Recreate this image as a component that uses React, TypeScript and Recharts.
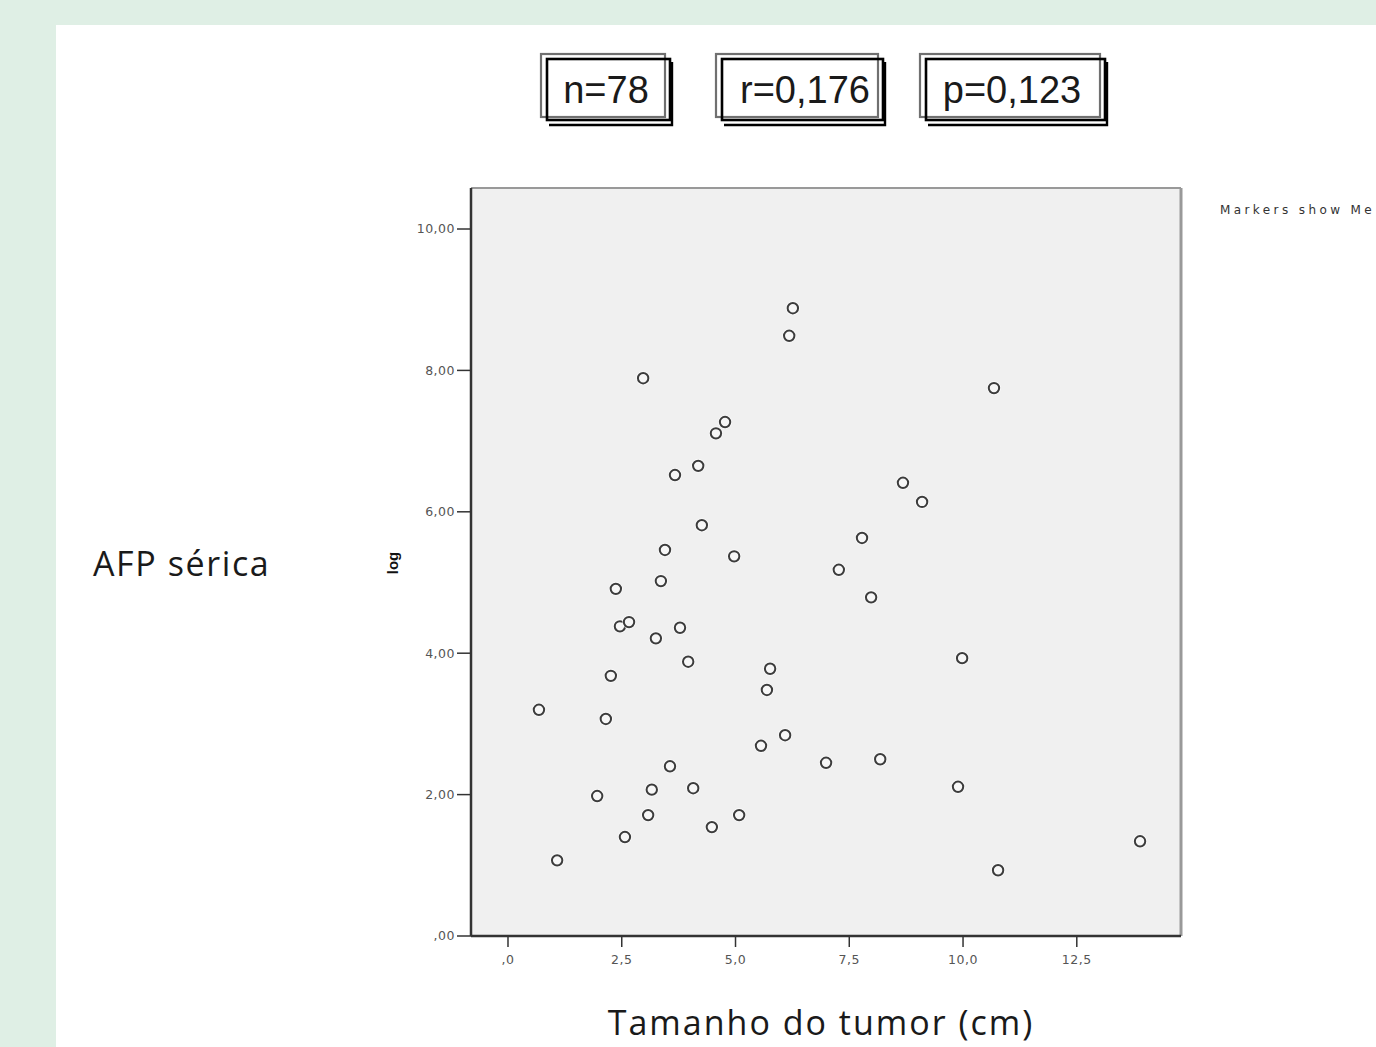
import React from "react";
import { ScatterChart, Scatter, XAxis, YAxis, CartesianGrid, ReferenceLine } from "recharts";

const tumorSize = [
  0.68, 1.08, 1.96, 2.15, 2.26, 2.37, 2.46, 2.66, 2.57, 2.97, 3.08, 3.16, 3.25, 3.36, 3.45,
  3.56, 3.67, 3.78, 3.96, 4.07, 4.18, 4.26, 4.48, 4.57, 4.77, 4.97, 5.08, 5.56, 5.69, 5.76,
  6.09, 6.18, 6.26, 6.99, 7.27, 7.78, 7.98, 8.18, 8.68, 9.1, 9.89, 9.98, 10.68, 10.77, 13.89,
];
const logAfp = [
  3.2, 1.07, 1.98, 3.07, 3.68, 4.91, 4.38, 4.44, 1.4, 7.89, 1.71, 2.07, 4.21, 5.02, 5.46,
  2.4, 6.52, 4.36, 3.88, 2.09, 6.65, 5.81, 1.54, 7.11, 7.27, 5.37, 1.71, 2.69, 3.48, 3.78,
  2.84, 8.49, 8.88, 2.45, 5.18, 5.63, 4.79, 2.5, 6.41, 6.14, 2.11, 3.93, 7.75, 0.93, 1.34,
];
const xTicks = [0, 2.5, 5, 7.5, 10, 12.5];
const yTicks = [0, 2, 4, 6, 8, 10];
const statLabels = ["n=78", "r=0,176", "p=0,123"];

const points = tumorSize.map((x, i) => ({ x, y: logAfp[i] }));

const X_MIN = -0.813;
const X_MAX = 14.79;
const Y_MAX = 10.58;

const fmtY = (v: number) => (v === 0 ? ",00" : v.toFixed(2).replace(".", ","));
const fmtX = (v: number) => (v === 0 ? ",0" : v.toFixed(1).replace(".", ","));

const Marker = (props: any) => {
  const { cx, cy } = props;
  if (cx == null || cy == null) return null;
  return (
    <g>
      <circle cx={cx} cy={cy} r={7} fill="#ffffff" opacity={0.7} />
      <circle cx={cx} cy={cy} r={5.2} fill="#f7f7f7" stroke="#3c3c3c" strokeWidth={2} />
    </g>
  );
};

const boxes = [
  { x: 541, w: 124, tx: 606 },
  { x: 716, w: 162, tx: 805 },
  { x: 920, w: 180, tx: 1012 },
];

const StatBox = ({ x, w, tx, label }: { x: number; w: number; tx: number; label: string }) => (
  <g>
    <rect x={x} y={54} width={w} height={63} fill="none" stroke="#707070" strokeWidth={2.2} />
    <rect x={x + 6} y={59} width={w - 1} height={61} fill="none" stroke="#000" strokeWidth={2.6} />
    <polyline
      points={`${x + 8},${125} ${x + w + 7},${125} ${x + w + 7},${62}`}
      fill="none"
      stroke="#000"
      strokeWidth={2.4}
    />
    <text
      x={tx}
      y={103}
      textAnchor="middle"
      fontFamily="'Liberation Sans', Arial, sans-serif"
      fontSize={38}
      fill="#1a1a1a"
    >
      {label}
    </text>
  </g>
);

const tickStyle = {
  fill: "#555",
  fontSize: 12.5,
  fontFamily: "'DejaVu Sans', sans-serif",
  letterSpacing: 0.5,
};

export default function App() {
  return (
    <div
      style={{
        position: "absolute",
        left: 0,
        top: 0,
        width: 1376,
        height: 1047,
        background: "#dfefe5",
        overflow: "hidden",
      }}
    >
      <div
        style={{
          position: "absolute",
          left: 56,
          top: 25,
          width: 1320,
          height: 1022,
          background: "#ffffff",
        }}
      />
      <div style={{ position: "absolute", left: 0, top: 0 }}>
        <ScatterChart
          width={1376}
          height={1047}
          margin={{ top: 188, right: 195, bottom: 71, left: 411 }}
        >
          <CartesianGrid horizontal={false} vertical={false} fill="#f0f0f0" />
          <XAxis
            type="number"
            dataKey="x"
            domain={[X_MIN, X_MAX]}
            ticks={xTicks}
            tickFormatter={fmtX}
            allowDataOverflow
            height={40}
            axisLine={{ stroke: "#333", strokeWidth: 2.5 }}
            tickLine={{ stroke: "#333", strokeWidth: 1.5 }}
            tickSize={11}
            tickMargin={8}
            tick={tickStyle}
          />
          <YAxis
            type="number"
            dataKey="y"
            domain={[0, Y_MAX]}
            ticks={yTicks}
            tickFormatter={fmtY}
            allowDataOverflow
            width={60}
            axisLine={{ stroke: "#333", strokeWidth: 2.5 }}
            tickLine={{ stroke: "#333", strokeWidth: 1.5 }}
            tickSize={14}
            tickMargin={2}
            tick={tickStyle}
          />
          <ReferenceLine y={Y_MAX} stroke="#999" strokeWidth={2} ifOverflow="visible" />
          <ReferenceLine x={X_MAX} stroke="#999" strokeWidth={3} ifOverflow="visible" />
          <Scatter data={points} shape={<Marker />} isAnimationActive={false} />
        </ScatterChart>
      </div>
      <svg
        width={1376}
        height={1047}
        style={{ position: "absolute", left: 0, top: 0, pointerEvents: "none" }}
      >
        {boxes.map((b, i) => (
          <StatBox key={i} x={b.x} w={b.w} tx={b.tx} label={statLabels[i]} />
        ))}
        <text
          x={93}
          y={576}
          fontFamily="'Open Sans', sans-serif"
          fontSize={34}
          letterSpacing={1.6}
          fill="#1a1a1a"
        >
          AFP sérica
        </text>
        <text
          x={398}
          y={563}
          transform="rotate(-90 398 563)"
          textAnchor="middle"
          fontFamily="'Liberation Sans', Arial, sans-serif"
          fontSize={15}
          fontWeight="bold"
          fill="#111"
        >
          log
        </text>
        <text
          x={821}
          y={1035}
          textAnchor="middle"
          fontFamily="'Open Sans', sans-serif"
          fontSize={34}
          letterSpacing={2}
          fill="#1a1a1a"
        >
          Tamanho do tumor (cm)
        </text>
        <text
          x={1220}
          y={214}
          fontFamily="'DejaVu Sans', sans-serif"
          fontSize={12}
          letterSpacing={3.4}
          fill="#333"
        >
          Markers show Me
        </text>
      </svg>
    </div>
  );
}
